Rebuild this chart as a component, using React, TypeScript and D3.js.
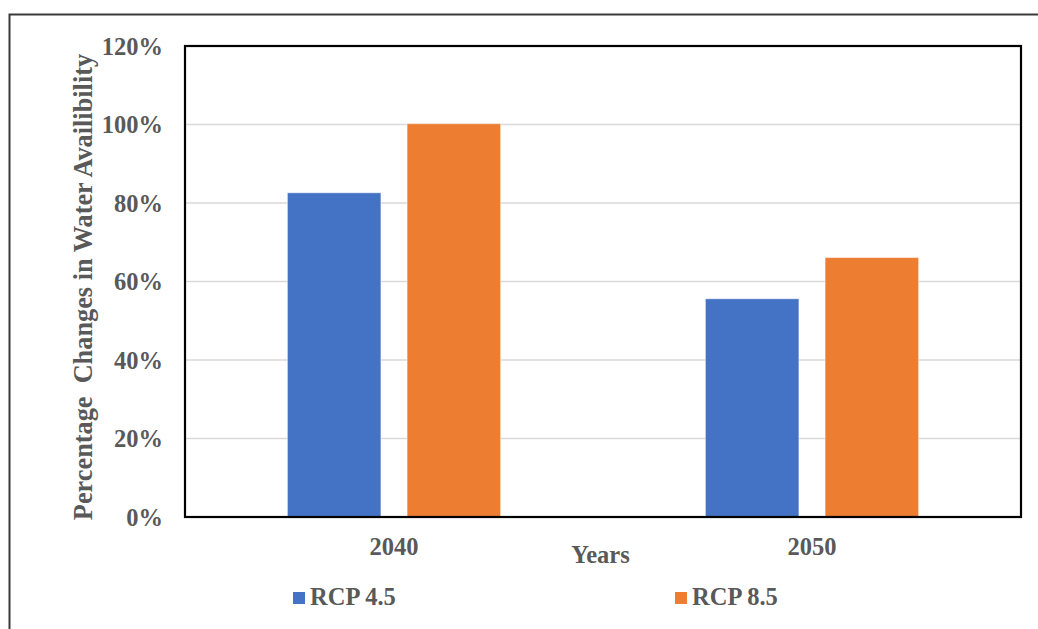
import React from "react";
import * as d3 from "d3";

// Percentage change in water availability by scenario and period
const years: string[] = ["2040", "2050"];
const seriesNames: string[] = ["RCP 4.5", "RCP 8.5"];
const rcp45: number[] = [0.826, 0.556];
const rcp85: number[] = [1.002, 0.661];
const yTicks: number[] = [0, 0.2, 0.4, 0.6, 0.8, 1.0, 1.2];
const seriesColors: string[] = ["#4472C4", "#ED7D31"];

const W = 1038;
const H = 629;
const plot = { left: 185, right: 1021, top: 46, bottom: 517 };
const FONT = "'Liberation Serif', 'Times New Roman', serif";
const TEXT = "#595959";
const FS = 24.5;

export default function App() {
  const x = d3
    .scaleBand<string>()
    .domain(years)
    .range([plot.left, plot.right])
    .paddingInner(0)
    .paddingOuter(0);
  const y = d3.scaleLinear().domain([0, 1.2]).range([plot.bottom, plot.top]);

  const barW = x.bandwidth() * 0.2237;
  const gap = barW * 0.28;
  const seriesValues = [rcp45, rcp85];

  return (
    <svg
      width={W}
      height={H}
      style={{ position: "absolute", left: 0, top: 0, background: "#fff" }}
      fontFamily={FONT}
    >
      {/* outer chart frame (open on right and bottom) */}
      <path d={`M9.5,${H} V14.5 H${W}`} fill="none" stroke="#3a3a3a" strokeWidth={2} />

      {/* gridlines */}
      {yTicks.slice(1).map((t) => (
        <line
          key={"g" + t}
          x1={plot.left}
          x2={plot.right}
          y1={y(t)}
          y2={y(t)}
          stroke="#d9d9d9"
          strokeWidth={1.5}
        />
      ))}

      {/* bars */}
      {years.map((yr, i) => {
        const c = (x(yr) as number) + x.bandwidth() / 2;
        return seriesValues.map((vals, s) => {
          const x0 = s === 0 ? c - gap / 2 - barW : c + gap / 2;
          return (
            <rect
              key={yr + s}
              x={x0}
              y={y(vals[i])}
              width={barW}
              height={plot.bottom - y(vals[i])}
              fill={seriesColors[s]}
              stroke="rgba(255,255,255,0.45)"
              strokeWidth={1}
            />
          );
        });
      })}

      {/* plot frame */}
      <rect
        x={plot.left}
        y={plot.top}
        width={plot.right - plot.left}
        height={plot.bottom - plot.top}
        fill="none"
        stroke="#000"
        strokeWidth={2.2}
      />

      {/* y tick labels */}
      {yTicks.map((t) => (
        <text
          key={"t" + t}
          x={163}
          y={y(t) + 8.5}
          textAnchor="end"
          fontSize={FS}
          fontWeight="bold"
          fill={TEXT}
        >
          {d3.format(".0%")(t)}
        </text>
      ))}

      {/* x tick labels */}
      {years.map((yr) => (
        <text
          key={"x" + yr}
          x={(x(yr) as number) + x.bandwidth() / 2}
          y={555}
          textAnchor="middle"
          fontSize={FS}
          fontWeight="bold"
          fill={TEXT}
        >
          {yr}
        </text>
      ))}

      {/* axis titles */}
      <text
        x={600.5}
        y={563}
        textAnchor="middle"
        fontSize={FS}
        fontWeight="bold"
        fill={TEXT}
      >
        Years
      </text>
      <text
        transform={`translate(92,287) rotate(-90)`}
        textAnchor="middle"
        fontSize={26.3}
        fontWeight="bold"
        fill={TEXT}
        style={{ whiteSpace: "pre" }}
      >
        {"Percentage  Changes in Water Availibility"}
      </text>

      {/* legend */}
      {seriesNames.map((name, s) => {
        const lx = s === 0 ? 293 : 675;
        return (
          <g key={name}>
            <rect x={lx} y={592} width={12} height={12} fill={seriesColors[s]} />
            <text x={lx + 17} y={604.5} fontSize={FS} fontWeight="bold" fill={TEXT}>
              {name}
            </text>
          </g>
        );
      })}
    </svg>
  );
}
